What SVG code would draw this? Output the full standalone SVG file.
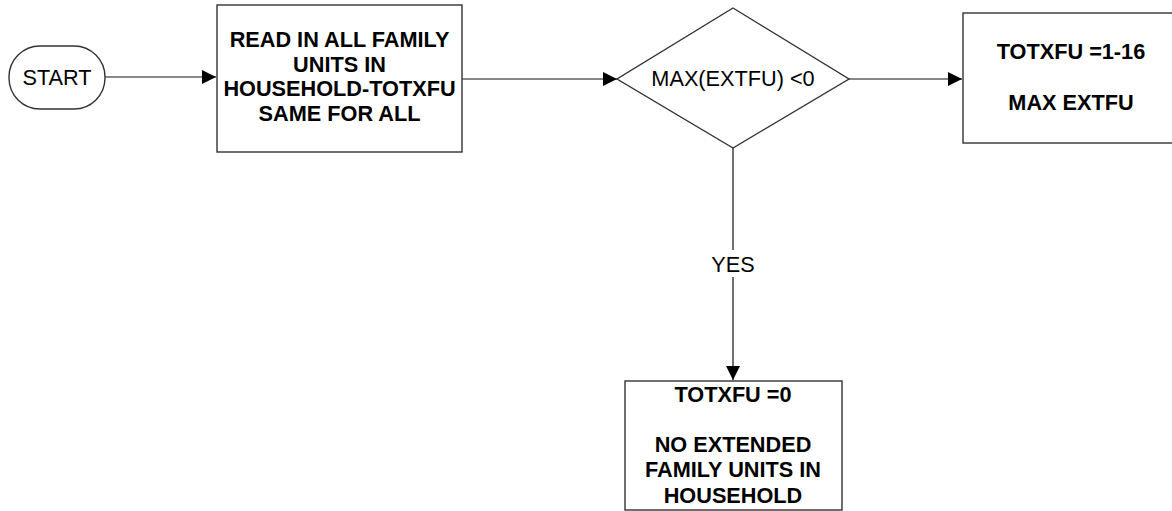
<svg xmlns="http://www.w3.org/2000/svg" width="1172" height="511" viewBox="0 0 1172 511">
<style>
.shape{fill:#fff;stroke:#333;stroke-width:1.4}
.conn{fill:none;stroke:#111;stroke-width:1.2}
.t{font-family:"Liberation Sans",Arial,sans-serif;font-size:21.7px;fill:#000;text-anchor:middle}
.b{font-weight:bold}
</style>
<defs>
<marker id="arr" viewBox="0 0 14 14" refX="14" refY="7" markerWidth="14" markerHeight="14" markerUnits="userSpaceOnUse" orient="auto">
<path d="M0,0 L14,7 L0,14 Z" fill="#000"/>
</marker>
</defs>
<rect width="1172" height="511" fill="#fff"/>
<g id="connectors">
<line class="conn" x1="105" y1="77" x2="216" y2="77" marker-end="url(#arr)"/>
<line class="conn" x1="462" y1="79" x2="617" y2="79" marker-end="url(#arr)"/>
<line class="conn" x1="849" y1="79" x2="962" y2="79" marker-end="url(#arr)"/>
<line class="conn" x1="733" y1="148" x2="733" y2="250"/>
<line class="conn" x1="733" y1="277" x2="733" y2="380" marker-end="url(#arr)"/>
<text class="t" x="733" y="272">YES</text>
</g>
<g id="start">
<rect class="shape" x="9" y="46" width="96" height="63" rx="31" ry="31"/>
<text class="t" x="57" y="85">START</text>
</g>
<g id="read">
<rect class="shape" x="217" y="5" width="245" height="147"/>
<text class="t b" x="339.5" y="47">READ IN ALL FAMILY</text>
<text class="t b" x="339.5" y="72">UNITS IN</text>
<text class="t b" x="339.5" y="96">HOUSEHOLD-TOTXFU</text>
<text class="t b" x="339.5" y="121">SAME FOR ALL</text>
</g>
<g id="decision">
<polygon class="shape" points="733,8 849,79 733,148 617,79"/>
<text class="t" x="733" y="86">MAX(EXTFU) &lt;0</text>
</g>
<g id="max">
<rect class="shape" x="963" y="13" width="216" height="130"/>
<text class="t b" x="1071" y="59">TOTXFU =1-16</text>
<text class="t b" x="1071" y="110">MAX EXTFU</text>
</g>
<g id="zero">
<rect class="shape" x="625" y="381" width="217" height="129"/>
<text class="t b" x="733" y="402">TOTXFU =0</text>
<text class="t b" x="733" y="452">NO EXTENDED</text>
<text class="t b" x="733" y="477">FAMILY UNITS IN</text>
<text class="t b" x="733" y="503">HOUSEHOLD</text>
</g>
</svg>
